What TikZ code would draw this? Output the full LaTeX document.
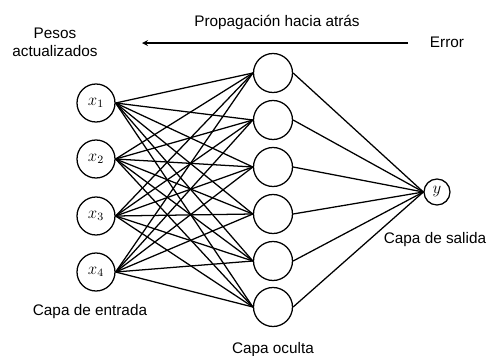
\documentclass[tikz,border=0pt]{standalone}
\usepackage{amsmath}
\usepackage{fontspec}
\setmainfont{Liberation Sans}
\usetikzlibrary{arrows}

\begin{document}
\begin{tikzpicture}[x=0.025cm,y=-0.025cm]
    \tikzstyle{lien}=[-,line width=0.9pt]
    \tikzstyle{retour}=[->,>=stealth,line width=0.9pt]
\tikzset{neurone/.style={draw,circle,line width=0.9pt,minimum size=#1*0.025cm,inner sep=0pt,font=\large},
neurone/.default={38}, etiquette/.style={font=\fontsize{10.9}{13}\selectfont,align=center}}
\useasboundingbox (0,0) rectangle (489,356);

% couche d'entree
\node[neurone] (E1) at (96,103){$x_1$};
\node[neurone] (E2) at (96,159){$x_2$};
\node[neurone] (E3) at (96,216){$x_3$};
\node[neurone] (E4) at (96,272){$x_4$};

% couche cachee
\node[neurone=39] (C1) at (273,73){};
\node[neurone=39] (C2) at (273,120){};
\node[neurone=39] (C3) at (273,167){};
\node[neurone=39] (C4) at (273,214){};
\node[neurone=39] (C5) at (273,261){};
\node[neurone=39] (C6) at (273,307){};

% sortie
\node[neurone=26] (S) at (437,192){$y$};

\foreach \i in {1,...,4}
  \foreach \j in {1,...,6}
    \draw[lien] (E\i.east) -- (C\j.west);
\foreach \j in {1,...,6}
  \draw[lien] (C\j.east) -- (S.west);

% textes
\node[etiquette] (pesos) at (55,42){Pesos\\actualizados};
\node[etiquette] (propag) at (277,22){Propagación hacia atrás};
\node[etiquette] (error) at (447,42){Error};
\node[etiquette] (entrada) at (90,312){Capa de entrada};
\node[etiquette] (oculta) at (273,350){Capa oculta};
\node[etiquette] (salida) at (435,240){Capa de salida};

\coordinate (depart) at (408,43);
\coordinate (arrivee) at (142,43);
\draw[retour] (depart) -- (arrivee);

\end{tikzpicture}
\end{document}
